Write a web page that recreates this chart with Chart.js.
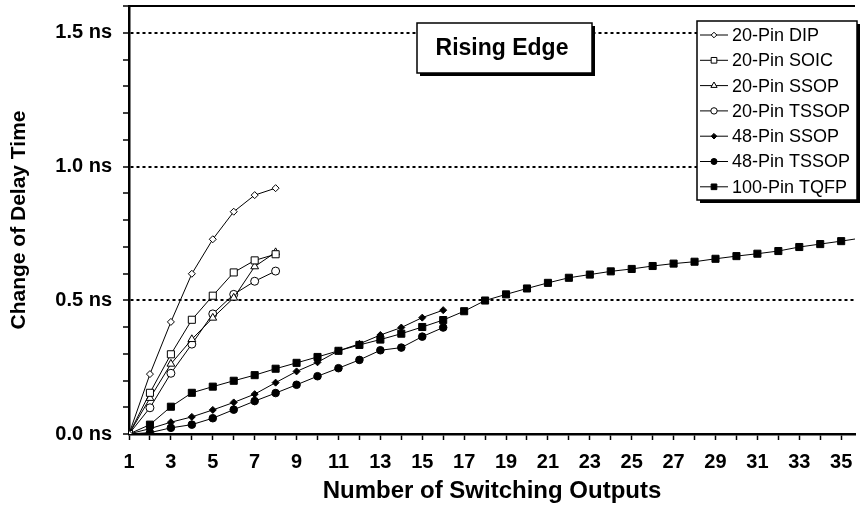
<!DOCTYPE html>
<html>
<head>
<meta charset="utf-8">
<script src="https://cdn.jsdelivr.net/npm/chart.js@4.4.1/dist/chart.umd.min.js"></script>
<style>
  html, body { margin: 0; padding: 0; background: #fff; }
  canvas { display: block; }
</style>
</head>
<body>
<canvas id="delayChart" width="861" height="505"></canvas>
<script>
// Change of delay time (ns) vs number of switching outputs, rising edge
const seriesNames = ['20-Pin DIP', '20-Pin SOIC', '20-Pin SSOP', '20-Pin TSSOP', '48-Pin SSOP', '48-Pin TSSOP', '100-Pin TQFP']
const dip20 = [0, 0.224, 0.419, 0.599, 0.728, 0.831, 0.893, 0.919]
const soic20 = [0, 0.154, 0.298, 0.427, 0.517, 0.604, 0.649, 0.672]
const ssop20 = [0, 0.134, 0.262, 0.354, 0.434, 0.509, 0.626, 0.679]
const tssop20 = [0, 0.098, 0.227, 0.336, 0.449, 0.522, 0.571, 0.609]
const ssop48 = [0, 0.02, 0.044, 0.064, 0.09, 0.118, 0.149, 0.192, 0.234, 0.268, 0.311, 0.337, 0.37, 0.398, 0.435, 0.463]
const tssop48 = [0, 0.005, 0.023, 0.035, 0.059, 0.091, 0.123, 0.153, 0.184, 0.216, 0.246, 0.277, 0.313, 0.323, 0.364, 0.398]
const tqfp100 = [0, 0.035, 0.102, 0.154, 0.177, 0.199, 0.22, 0.244, 0.266, 0.288, 0.311, 0.333, 0.353, 0.375, 0.4, 0.426,
  0.459, 0.499, 0.522, 0.544, 0.565, 0.584, 0.596, 0.608, 0.617, 0.628, 0.637, 0.644, 0.655, 0.665, 0.674, 0.684,
  0.699, 0.71, 0.721, 0.733]
const xLabelTicks = [1, 3, 5, 7, 9, 11, 13, 15, 17, 19, 21, 23, 25, 27, 29, 31, 33, 35]
const yLabelTicks = [0, 0.5, 1.0, 1.5]

const seriesValues = [dip20, soic20, ssop20, tssop20, ssop48, tssop48, tqfp100]
const markerStyles = ['rectRot', 'rect', 'triangle', 'circle', 'rectRot', 'circle', 'rect']
const markerSizes = [3.5, 5, 4.5, 4, 3.5, 3.8, 5]
const markerFilled = [false, false, false, false, true, true, true]

const FONT = "'Liberation Sans', Arial, Helvetica, sans-serif"
Chart.defaults.font.family = FONT
Chart.defaults.color = '#000'

const isMajor = (v) => yLabelTicks.some((t) => Math.abs(t - v) < 1e-6)

const datasets = seriesNames.map((name, i) => ({
  label: name,
  data: seriesValues[i].map((v, k) => ({ x: k + 1, y: v })),
  borderColor: '#000',
  borderWidth: 1,
  tension: 0,
  pointStyle: markerStyles[i],
  pointRadius: markerSizes[i],
  pointBackgroundColor: markerFilled[i] ? '#000' : '#fff',
  pointBorderColor: '#000',
  pointBorderWidth: 1,
}))

// boxes, legend and top frame line
const decorations = {
  id: 'decorations',
  afterDraw(chart) {
    const { ctx, chartArea } = chart
    ctx.save()

    // top frame
    ctx.strokeStyle = '#000'
    ctx.lineWidth = 2
    ctx.beginPath()
    ctx.moveTo(chartArea.left - 1, chartArea.top)
    ctx.lineTo(chartArea.right, chartArea.top)
    ctx.stroke()

    // "Rising Edge" box
    ctx.fillStyle = '#000'
    ctx.fillRect(420, 26, 175, 50)
    ctx.fillStyle = '#fff'
    ctx.fillRect(417, 23, 175, 50)
    ctx.lineWidth = 1.5
    ctx.strokeRect(417, 23, 175, 50)
    ctx.fillStyle = '#000'
    ctx.font = 'bold 23px ' + FONT
    ctx.textAlign = 'center'
    ctx.textBaseline = 'middle'
    ctx.fillText('Rising Edge', 502, 49)

    // legend
    const lx = 697, ly = 21, lw = 160, lh = 179
    ctx.fillStyle = '#000'
    ctx.fillRect(lx + 3, ly + 3, lw, lh)
    ctx.fillStyle = '#fff'
    ctx.fillRect(lx, ly, lw, lh)
    ctx.lineWidth = 1.5
    ctx.strokeRect(lx, ly, lw, lh)

    ctx.font = '18px ' + FONT
    ctx.textAlign = 'left'
    chart.data.datasets.forEach((ds, i) => {
      const y = 35 + i * 25.3
      ctx.strokeStyle = '#000'
      ctx.lineWidth = 1
      ctx.beginPath()
      ctx.moveTo(lx + 3, y)
      ctx.lineTo(lx + 31, y)
      ctx.stroke()
      ctx.fillStyle = ds.pointBackgroundColor
      Chart.helpers.drawPoint(ctx, {
        pointStyle: ds.pointStyle,
        radius: ds.pointRadius * 0.8,
        rotation: 0,
        borderWidth: 1,
      }, lx + 17, y)
      ctx.fillStyle = '#000'
      ctx.fillText(ds.label, lx + 35, y + 1)
    })
    ctx.restore()
  },
}

const chart = new Chart(document.getElementById('delayChart'), {
  type: 'line',
  data: { datasets },
  options: {
    responsive: false,
    animation: false,
    devicePixelRatio: 1,
    layout: { padding: { top: 5, right: 0, left: 0, bottom: 0 } },
    plugins: { legend: { display: false }, tooltip: { enabled: false } },
    scales: {
      x: {
        type: 'linear',
        min: 1,
        max: 35.66,
        afterBuildTicks: (scale) => {
          scale.ticks = []
          for (let v = 1; v <= 35; v++) scale.ticks.push({ value: v })
        },
        afterFit: (scale) => {
          scale.height = 71
          scale.paddingLeft = 0
          scale.paddingRight = 0
        },
        ticks: {
          autoSkip: false,
          maxRotation: 0,
          padding: 10,
          font: { size: 20, weight: 'bold' },
          callback: (v) => (xLabelTicks.includes(v) ? String(v) : ''),
        },
        grid: {
          drawOnChartArea: false,
          tickLength: 6,
          tickWidth: 1.5,
          tickColor: '#000',
        },
        border: { color: '#000', width: 2.5 },
        title: {
          display: true,
          text: 'Number of Switching Outputs',
          font: { size: 24, weight: 'bold', lineHeight: 1 },
          padding: { top: 0, bottom: 2 },
        },
      },
      y: {
        min: 0,
        max: 1.6,
        afterFit: (scale) => {
          scale.width = 129
          scale.paddingTop = 0
          scale.paddingBottom = 0
        },
        ticks: {
          stepSize: 0.1,
          autoSkip: false,
          padding: 11,
          font: { size: 20, weight: 'bold' },
          callback: (v) => (isMajor(v) ? v.toFixed(1) + ' ns' : ''),
        },
        grid: {
          color: (c) => (c.tick && isMajor(c.tick.value) && c.tick.value > 0 ? '#000' : 'rgba(0,0,0,0)'),
          lineWidth: (c) => (c.tick && isMajor(c.tick.value) && c.tick.value > 0 ? 2 : 0),
          tickLength: 6,
          tickWidth: 1.5,
          tickColor: '#000',
        },
        border: { color: '#000', width: 2.5, dash: [3, 3] },
        title: {
          display: true,
          text: 'Change of Delay Time',
          font: { size: 21, weight: 'bold', lineHeight: 1.2 },
          padding: { top: 7, bottom: 0 },
        },
      },
    },
  },
  plugins: [decorations],
})
</script>
</body>
</html>
